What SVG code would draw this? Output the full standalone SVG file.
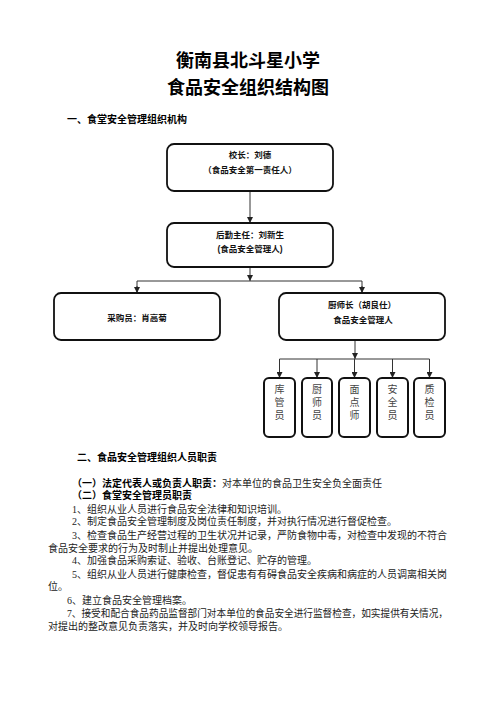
<svg xmlns="http://www.w3.org/2000/svg" width="496" height="702" viewBox="0 0 496 702">
<defs>
<marker id="ah" viewBox="0 0 6 6" refX="6" refY="3" markerWidth="6" markerHeight="6" markerUnits="userSpaceOnUse" orient="auto">
<path d="M0,0 L6,3 L0,6 z" fill="#222"/>
</marker>
<style>
.t{font-family:"Liberation Sans","Noto Sans CJK SC",sans-serif;font-weight:bold;fill:#000}
.b{font-family:"Liberation Serif","Noto Sans CJK SC",serif;font-size:10px;fill:#222}
.bb{font-weight:bold;fill:#000}
.box{fill:#fff;stroke:#111;stroke-width:1.8}
.sbox{fill:#fff;stroke:#111;stroke-width:2}
.lbl{font-family:"Liberation Sans","Noto Sans CJK SC",sans-serif;font-weight:bold;font-size:8.5px;fill:#111;text-anchor:middle}
.vl{font-family:"Liberation Serif","Noto Sans CJK SC",serif;font-size:10px;fill:#444;text-anchor:middle}
.c{fill:none;stroke:#333;stroke-width:1}
</style>
</defs>
<rect width="496" height="702" fill="#fff"/>
<text class="t" x="248" y="67" font-size="18" text-anchor="middle">衡南县北斗星小学</text>
<text class="t" x="248" y="94" font-size="18" text-anchor="middle">食品安全组织结构图</text>
<text class="t" x="67" y="123" font-size="10">一、食堂安全管理组织机构</text>

<g id="connectors">
<line class="c" x1="250" y1="191" x2="250" y2="223" marker-end="url(#ah)"/>
<line class="c" x1="250" y1="267" x2="250" y2="281" marker-end="url(#ah)"/>
<polyline class="c" points="137,293 137,281 362,281 362,293"/>
<line class="c" x1="137" y1="286" x2="137" y2="293" marker-end="url(#ah)"/>
<line class="c" x1="362" y1="286" x2="362" y2="293" marker-end="url(#ah)"/>
<line class="c" x1="355" y1="340" x2="355" y2="359" marker-end="url(#ah)"/>
<line class="c" x1="279.5" y1="359" x2="429.5" y2="359"/>
<line class="c" x1="279.5" y1="359" x2="279.5" y2="378" marker-end="url(#ah)"/>
<line class="c" x1="317" y1="359" x2="317" y2="378" marker-end="url(#ah)"/>
<line class="c" x1="354.5" y1="359" x2="354.5" y2="378" marker-end="url(#ah)"/>
<line class="c" x1="392.5" y1="359" x2="392.5" y2="378" marker-end="url(#ah)"/>
<line class="c" x1="429.5" y1="359" x2="429.5" y2="378" marker-end="url(#ah)"/>
</g>

<g id="principal">
<rect class="box" x="167" y="144" width="166" height="47" rx="7"/>
<text class="lbl" x="250" y="158">校长：刘德</text>
<text class="lbl" x="250" y="173">（食品安全第一责任人）</text>
</g>
<g id="logistics">
<rect class="box" x="167" y="223" width="166" height="44" rx="7"/>
<text class="lbl" x="250" y="238">后勤主任：刘新生</text>
<text class="lbl" x="250" y="252">(食品安全管理人)</text>
</g>
<g id="purchaser">
<rect class="box" x="54" y="293" width="166" height="47" rx="7"/>
<text class="lbl" x="137" y="321">采购员：肖高菊</text>
</g>
<g id="chef">
<rect class="box" x="279" y="293" width="166" height="47" rx="7"/>
<text class="lbl" x="362" y="308">厨师长（胡良仕）</text>
<text class="lbl" x="363" y="323">食品安全管理人</text>
</g>
<g id="s1">
<rect class="sbox" x="264" y="378" width="31" height="59" rx="5"/>
<text class="vl" x="279.5" y="393">库</text><text class="vl" x="279.5" y="406">管</text><text class="vl" x="279.5" y="419">员</text>
</g>
<g id="s2">
<rect class="sbox" x="302" y="378" width="30" height="59" rx="5"/>
<text class="vl" x="317" y="393">厨</text><text class="vl" x="317" y="406">师</text><text class="vl" x="317" y="419">员</text>
</g>
<g id="s3">
<rect class="sbox" x="339" y="378" width="31" height="59" rx="5"/>
<text class="vl" x="354.5" y="393">面</text><text class="vl" x="354.5" y="406">点</text><text class="vl" x="354.5" y="419">师</text>
</g>
<g id="s4">
<rect class="sbox" x="377" y="378" width="31" height="59" rx="5"/>
<text class="vl" x="392.5" y="393">安</text><text class="vl" x="392.5" y="406">全</text><text class="vl" x="392.5" y="419">员</text>
</g>
<g id="s5">
<rect class="sbox" x="414" y="378" width="31" height="59" rx="5"/>
<text class="vl" x="429.5" y="393">质</text><text class="vl" x="429.5" y="406">检</text><text class="vl" x="429.5" y="419">员</text>
</g>

<text class="t" x="77" y="461" font-size="10">二、食品安全管理组织人员职责</text>
<text class="b" x="72" y="487"><tspan class="bb">（一）法定代表人或负责人职责：</tspan>对本单位的食品卫生安全负全面责任</text>
<text class="b bb" x="72" y="499">（二）食堂安全管理员职责</text>
<text class="b" x="72" y="513">1、组织从业人员进行食品安全法律和知识培训。</text>
<text class="b" x="72" y="525">2、制定食品安全管理制度及岗位责任制度，并对执行情况进行督促检查。</text>
<text class="b" x="72" y="539" textLength="375" lengthAdjust="spacingAndGlyphs">3、检查食品生产经营过程的卫生状况并记录，严防食物中毒，对检查中发现的不符合</text>
<text class="b" x="48" y="552">食品安全要求的行为及时制止并提出处理意见。</text>
<text class="b" x="72" y="564">4、加强食品采购索证、验收、台账登记、贮存的管理。</text>
<text class="b" x="72" y="578" textLength="375" lengthAdjust="spacingAndGlyphs">5、组织从业人员进行健康检查，督促患有有碍食品安全疾病和病症的人员调离相关岗</text>
<text class="b" x="48" y="590">位。</text>
<text class="b" x="67" y="604">6、建立食品安全管理档案。</text>
<text class="b" x="67" y="617" textLength="381" lengthAdjust="spacingAndGlyphs">7、接受和配合食品药品监督部门对本单位的食品安全进行监督检查，如实提供有关情况，</text>
<text class="b" x="48" y="630">对提出的整改意见负责落实，并及时向学校领导报告。</text>
</svg>
